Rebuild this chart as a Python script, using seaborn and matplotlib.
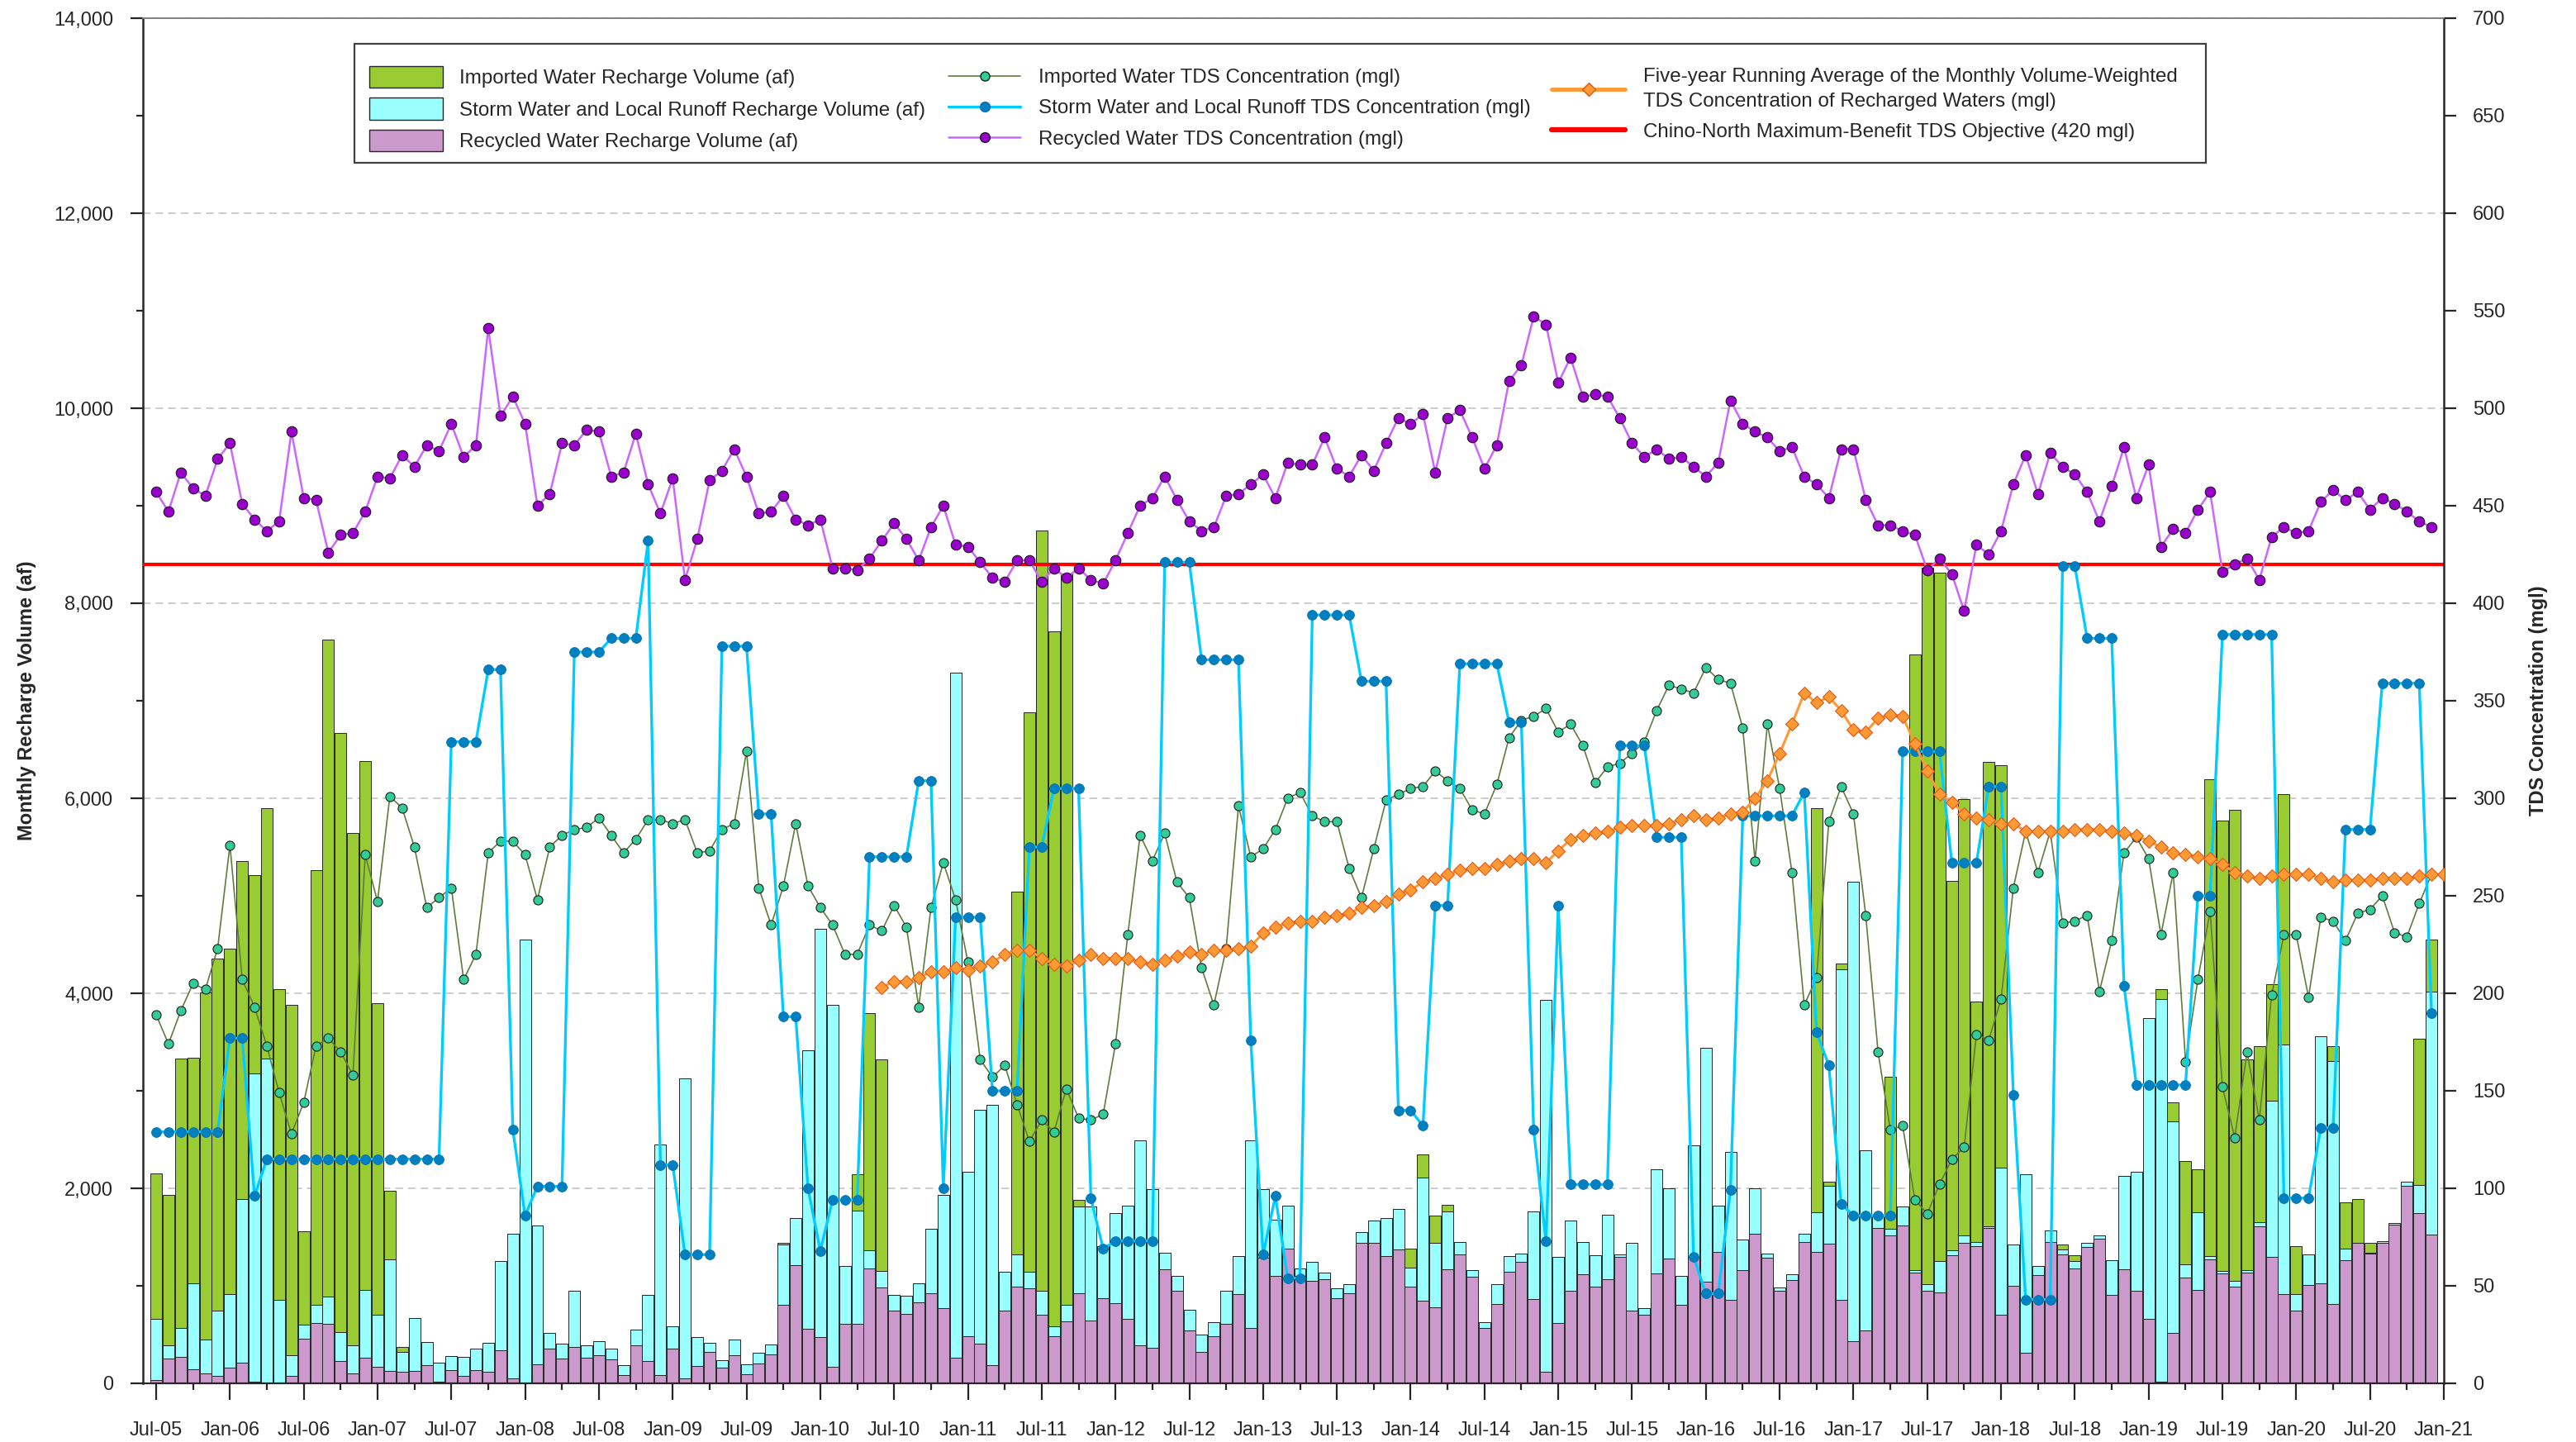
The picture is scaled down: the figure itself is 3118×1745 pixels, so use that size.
import numpy as np
import pandas as pd
import seaborn as sns
import matplotlib.pyplot as plt
from matplotlib.lines import Line2D
from matplotlib.patches import Patch, Rectangle
from matplotlib.ticker import MultipleLocator, FuncFormatter

sns.set_style("ticks")
plt.rcParams['font.family'] = ['Liberation Sans', 'DejaVu Sans']

# monthly values Jul-05 .. Dec-20 (186 months)
recycled_af = [
    30, 257, 272, 144, 98, 76, 159, 212, 20, 10, 0, 76, 454, 620, 612, 227, 98, 265, 166, 129, 121, 129, 189, 20,
    136, 76, 136, 121, 340, 53, 10, 197, 355, 257, 370, 265, 287, 250, 83, 393, 227, 83, 355, 53, 181, 318, 159,
    287, 91, 204, 295, 809, 1210, 560, 476, 166, 612, 612, 1180, 983, 749, 711, 832, 922, 771, 265, 484, 408, 189, 749,
    990, 975, 703, 484, 635, 922, 643, 870, 824, 658, 386, 363, 1172, 953, 544, 318, 484, 612, 915, 567, 1285, 1104, 1384, 1104,
    1051, 1066, 870, 922, 1444, 1437, 1308, 1376, 990, 847, 779, 1172, 1323, 1089, 567, 817, 1142, 1248, 862, 121, 620, 953, 1119, 990,
    1066, 1293, 749, 703, 1127, 1278, 809, 1300, 1043, 1346, 854, 1164, 1535, 1285, 945, 1059, 1452, 1346, 1429, 854, 431, 544, 1595,
    1520, 1618, 1134, 953, 930, 1316, 1437, 1406, 1595, 703, 998, 310, 1111, 1452, 1323, 1180, 1399, 1482, 907, 1172, 945, 665, 20, 514,
    1081, 960, 1270, 1127, 990, 1134, 1610, 1293, 915, 749, 1006, 1028, 817, 1263, 1444, 1331, 1444, 1626, 2026, 1747, 1527,
]
storm_af = [
    635, 136, 295, 884, 348, 673, 756, 1678, 3156, 3324, 854, 211, 151, 181, 280, 302, 295, 695, 537, 1141, 197, 544, 234, 192,
    144, 196, 219, 295, 915, 1482, 4542, 1421, 159, 151, 583, 128, 144, 105, 106, 159, 680, 2367, 227, 3077, 295, 98, 75,
    159, 106, 106, 106, 612, 484, 2858, 4182, 3713, 590, 1157, 181, 166, 158, 189, 196, 666, 1157, 7024, 1686, 2397, 2669, 393,
    333, 167, 250, 98, 166, 893, 1172, 536, 923, 1164, 2102, 1626, 166, 151, 212, 181, 144, 333, 393, 1928, 704, 575, 438, 76,
    197, 68, 105, 99, 106, 234, 386, 408, 197, 1263, 665, 590, 129, 68, 61, 204, 166, 83, 900, 3811, 673, 718, 333, 326,
    665, 30, 695, 68, 1066, 726, 295, 1142, 2397, 476, 1520, 310, 461, 46, 38, 60, 83, 408, 597, 3388, 4710, 1845, 114,
    68, 197, 30, 68, 325, 45, 83, 46, 15, 1512, 423, 1830, 91, 113, 46, 75, 38, 38, 356, 953, 1225, 3078, 3919, 2170,
    136, 794, 38, 22, 61, 30, 46, 1603, 2556, 166, 317, 2533, 2487, 121, 0, 7, 15, 22, 38, 287, 2488,
]
imported_af = [
    1490, 1543, 2760, 2314, 3561, 3606, 3546, 3463, 2033, 2564, 3191, 3592, 953, 4461, 6737, 6140, 5248, 5421, 3199, 703, 52, 0, 0, 0,
    0, 0, 0, 0, 0, 0, 0, 0, 0, 0, 0, 0, 0, 0, 0, 0, 0, 0, 0, 0, 0, 0, 0,
    0, 0, 0, 0, 23, 0, 0, 0, 0, 0, 371, 2435, 2170, 0, 0, 0, 0, 0, 0, 0, 0, 0, 0,
    3720, 5738, 7795, 7130, 7501, 68, 0, 0, 0, 0, 0, 0, 0, 0, 0, 0, 0, 0, 0, 0, 0, 0, 0, 0,
    0, 0, 0, 0, 0, 0, 0, 0, 197, 241, 280, 68, 0, 0, 0, 0, 0, 0, 0, 0, 0, 0, 0, 0,
    0, 0, 0, 0, 0, 0, 0, 0, 0, 0, 0, 0, 0, 0, 0, 0, 0, 4144, 38, 60, 0, 0, 0,
    1557, 0, 6314, 7341, 7062, 3788, 4468, 2465, 4764, 4121, 0, 0, 0, 0, 52, 61, 0, 0, 0, 0, 0, 0, 106, 197,
    1066, 439, 4884, 4620, 4832, 2155, 1799, 1194, 2570, 491, 0, 0, 151, 468, 446, 106, 0, 0, 0, 1497, 537,
]

imported_tds = [
    189, 174, 191, 205, 202, 223, 276, 207, 193, 173, 149, 128, 144, 173, 177, 170, 158, 271, 247, 301, 295, 275, 244, 249,
    254, 207, 220, 272, 278, 278, 271, 248, 275, 281, 284, 285, 290, 281, 272, 279, 289, 289, 287, 289, 272, 273, 284,
    287, 324, 254, 235, 255, 287, 255, 244, 235, 220, 220, 235, 232, 245, 234, 193, 244, 267, 248, 216, 166, 157, 163,
    143, 124, 135, 129, 151, 136, 135, 138, 174, 230, 281, 268, 282, 257, 249, 213, 194, 223, 296, 270, 274, 284, 300, 303,
    291, 288, 288, 264, 249, 274, 299, 302, 305, 306, 314, 309, 305, 294, 292, 307, 331, 340, 342, 346, 334, 338, 327, 308,
    316, 318, 323, 329, 345, 358, 356, 354, 367, 361, 359, 336, 268, 338, 305, 262, 194, 208, 288, 306, 292, 240, 170,
    130, 132, 94, 87, 102, 115, 121, 179, 176, 197, 254, 283, 262, 283, 236, 237, 240, 201, 227, 272, 280, 269, 230, 262,
    165, 207, 242, 152, 126, 170, 135, 199, 230, 230, 198, 239, 237, 227, 241, 243, 250, 231, 229, 246, 261,
]
storm_tds = [
    129, 129, 129, 129, 129, 129, 177, 177, 96, 115, 115, 115, 115, 115, 115, 115, 115, 115, 115, 115, 115, 115, 115, 115,
    329, 329, 329, 366, 366, 130, 86, 101, 101, 101, 375, 375, 375, 382, 382, 382, 432, 112, 112, 66, 66, 66, 378,
    378, 378, 292, 292, 188, 188, 100, 68, 94, 94, 94, 270, 270, 270, 270, 309, 309, 100, 239, 239, 239, 150, 150,
    150, 275, 275, 305, 305, 305, 95, 69, 73, 73, 73, 73, 421, 421, 421, 371, 371, 371, 371, 176, 66, 96, 54, 54,
    394, 394, 394, 394, 360, 360, 360, 140, 140, 132, 245, 245, 369, 369, 369, 369, 339, 339, 130, 73, 245, 102, 102, 102,
    102, 327, 327, 327, 280, 280, 280, 65, 46, 46, 99, 291, 291, 291, 291, 291, 303, 180, 163, 92, 86, 86, 86,
    86, 324, 324, 324, 324, 267, 267, 267, 306, 306, 148, 43, 43, 43, 419, 419, 382, 382, 382, 204, 153, 153, 153, 153,
    153, 250, 250, 384, 384, 384, 384, 384, 95, 95, 95, 131, 131, 284, 284, 284, 359, 359, 359, 359, 190,
]
recycled_tds = [
    457, 447, 467, 459, 455, 474, 482, 451, 443, 437, 442, 488, 454, 453, 426, 435, 436, 447, 465, 464, 476, 470, 481, 478,
    492, 475, 481, 541, 496, 506, 492, 450, 456, 482, 481, 489, 488, 465, 467, 487, 461, 446, 464, 412, 433, 463, 468,
    479, 465, 446, 447, 455, 443, 440, 443, 418, 418, 417, 423, 432, 441, 433, 422, 439, 450, 430, 429, 421, 413, 411,
    422, 422, 411, 418, 413, 418, 412, 410, 422, 436, 450, 454, 465, 453, 442, 437, 439, 455, 456, 461, 466, 454, 472, 471,
    471, 485, 469, 465, 476, 468, 482, 495, 492, 497, 467, 495, 499, 485, 469, 481, 514, 522, 547, 543, 513, 526, 506, 507,
    506, 495, 482, 475, 479, 474, 475, 470, 465, 472, 504, 492, 488, 485, 478, 480, 465, 461, 454, 479, 479, 453, 440,
    440, 437, 435, 417, 423, 415, 396, 430, 425, 437, 461, 476, 456, 477, 470, 466, 457, 442, 460, 480, 454, 471, 429, 438,
    436, 448, 457, 416, 420, 423, 412, 434, 439, 436, 437, 452, 458, 453, 457, 448, 454, 451, 447, 442, 439,
]
# five-year running average, Jun-10 .. Jan-21
running_avg_tds = [
    203, 206, 206, 208, 211, 211, 213, 212, 214, 216, 220, 222,
    222, 218, 215, 214, 217, 220, 218, 218, 218, 216, 215, 217, 219, 221, 220, 222, 222, 223, 224, 231, 234, 236, 237,
    237, 239, 240, 241, 244, 245, 247, 251, 253, 257, 259, 261, 263, 264, 264, 266, 268, 269, 269, 267, 273, 279, 281, 282,
    283, 285, 286, 286, 286, 287, 289, 291, 289, 290, 292, 293, 300, 309, 323, 338, 354, 349, 352, 345, 335, 334, 341,
    343, 342, 328, 314, 302, 298, 292, 290, 289, 287, 287, 283, 283, 283, 283, 284, 284, 284, 283, 282, 281, 278, 275, 272,
    271, 270, 269, 266, 262, 260, 259, 260, 261, 261, 261, 259, 257, 258, 258, 258, 259, 259, 259, 260, 261, 261,
]
objective_tds = 420
tick_labels = [d.strftime("%b-%y") for d in pd.date_range("2005-07-01", "2021-01-01", freq="6MS")]

df = pd.DataFrame({
    "month": np.arange(len(recycled_af)),
    "recycled": recycled_af, "storm": storm_af, "imported": imported_af,
    "imported_tds": imported_tds, "storm_tds": storm_tds, "recycled_tds": recycled_tds,
})
avg = pd.DataFrame({"month": np.arange(59, 59 + len(running_avg_tds)), "tds": running_avg_tds})

W, H = 3118, 1745
fig = plt.figure(figsize=(W / 100, H / 100), dpi=100)
ax = fig.add_axes([173 / W, (H - 1674) / H, 2785 / W, 1652 / H])
ax2 = ax.twinx()

# stacked bars
bw = 0.94
ec = "#262626"
ax.bar(df["month"], df["recycled"], width=bw, color="#CC99CC", edgecolor=ec, linewidth=0.7)
ax.bar(df["month"], df["storm"], width=bw, bottom=df["recycled"], color="#99FFFF", edgecolor=ec, linewidth=0.7)
ax.bar(df["month"], df["imported"], width=bw, bottom=df["recycled"] + df["storm"],
       color="#99CC33", edgecolor=ec, linewidth=0.7)

# TDS lines
ax2.axhline(objective_tds, color="#FF0000", linewidth=3.0, zorder=1)
sns.lineplot(data=df, x="month", y="imported_tds", ax=ax2, color="#5E7D3C", linewidth=1.2,
             marker="o", markersize=8, markerfacecolor="#33CC99", markeredgecolor="#1a1a1a",
             markeredgewidth=0.8, legend=False, zorder=3)
sns.lineplot(data=df, x="month", y="storm_tds", ax=ax2, color="#00CCFF", linewidth=2.4,
             marker="o", markersize=8.5, markerfacecolor="#0080C0", markeredgecolor="#0070B0",
             markeredgewidth=0.6, legend=False, zorder=4)
sns.lineplot(data=df, x="month", y="recycled_tds", ax=ax2, color="#CC66FF", linewidth=1.8,
             marker="o", markersize=9, markerfacecolor="#9900CC", markeredgecolor="#1a1a1a",
             markeredgewidth=0.8, legend=False, zorder=5)
sns.lineplot(data=avg, x="month", y="tds", ax=ax2, color="#FF9933", linewidth=2.2,
             marker="D", markersize=8.5, markerfacecolor="#FF9933", markeredgecolor="#E0561A",
             markeredgewidth=0.8, legend=False, zorder=6)

# axes formatting
ax.set_xlim(-1.075, 186)
ax.set_ylim(0, 14000)
ax2.set_ylim(0, 700)
ax.set_xticks(np.arange(0, 187, 6))
ax.set_xticklabels(tick_labels)
ax.xaxis.set_minor_locator(MultipleLocator(3))
ax.yaxis.set_major_locator(MultipleLocator(2000))
ax.yaxis.set_minor_locator(MultipleLocator(1000))
ax.yaxis.set_major_formatter(FuncFormatter(lambda v, p: f"{v:,.0f}"))
ax2.yaxis.set_major_locator(MultipleLocator(50))

ax.set_axisbelow(True)
ax.yaxis.grid(True, which="major", linestyle=(0, (6, 4)), color="#BFBFBF", linewidth=1.1)

ts = 17
ax.tick_params(axis="x", which="major", length=14.4, width=1.6, pad=19, labelsize=ts, direction="out")
ax.tick_params(axis="x", which="minor", length=5.8, width=1.6, direction="out")
ax.tick_params(axis="y", which="major", length=10.8, width=1.6, pad=15, labelsize=ts, direction="out")
ax.tick_params(axis="y", which="minor", length=5.8, width=1.6, direction="out")
ax2.tick_params(axis="y", which="major", length=10.8, width=1.6, pad=14.4, labelsize=ts, direction="out")

for a in (ax, ax2):
    a.spines["top"].set_color("#808080")
    a.spines["top"].set_linewidth(1.2)
ax.spines["left"].set_linewidth(1.8)
ax.spines["bottom"].set_linewidth(1.6)
ax.spines["right"].set_visible(False)
ax2.spines["right"].set_linewidth(1.8)
ax2.spines["left"].set_visible(False)
ax2.spines["bottom"].set_visible(False)

ax.set_xlabel("")
ax2.set_xlabel("")
ax.set_ylabel("Monthly Recharge Volume (af)", fontsize=17, fontweight="bold")
ax2.set_ylabel("TDS Concentration (mgl)", fontsize=17, fontweight="bold")
ax.yaxis.set_label_coords((44 - 173) / 2785, 0.5)
ax2.yaxis.set_label_coords((3061 - 173) / 2785, 0.5)

# legend
fs = 17.4
fig.add_artist(Rectangle((429 / W, 1 - 197 / H), 2241 / W, 144 / H, transform=fig.transFigure,
                         facecolor="white", edgecolor="#404040", linewidth=1.6, zorder=4))
h1 = [Patch(facecolor="#99CC33", edgecolor=ec), Patch(facecolor="#99FFFF", edgecolor=ec),
      Patch(facecolor="#CC99CC", edgecolor=ec)]
l1 = ["Imported Water Recharge Volume (af)", "Storm Water and Local Runoff Recharge Volume (af)",
      "Recycled Water Recharge Volume (af)"]
h2 = [Line2D([], [], color="#5E7D3C", lw=1.2, marker="o", ms=8, mfc="#33CC99", mec="#1a1a1a"),
      Line2D([], [], color="#00CCFF", lw=2.4, marker="o", ms=8.5, mfc="#0080C0", mec="#0070B0"),
      Line2D([], [], color="#CC66FF", lw=1.8, marker="o", ms=8.5, mfc="#9900CC", mec="#1a1a1a")]
l2 = ["Imported Water TDS Concentration (mgl)", "Storm Water and Local Runoff TDS Concentration (mgl)",
      "Recycled Water TDS Concentration (mgl)"]
h3 = [Line2D([], [], color="#FF9933", lw=3.5, marker="D", ms=8.5, mfc="#FF9933", mec="#E0561A"),
      Line2D([], [], color="#FF0000", lw=4.5)]
l3 = ["Five-year Running Average of the Monthly Volume-Weighted\nTDS Concentration of Recharged Waters (mgl)",
      "Chino-North Maximum-Benefit TDS Objective (420 mgl)"]

common = dict(frameon=False, fontsize=fs, loc="upper left", borderpad=0, borderaxespad=0)
fig.legend(h1, l1, bbox_to_anchor=(447 / W, 1 - 80 / H), handlelength=3.7, handleheight=1.3,
           handletextpad=0.8, labelspacing=0.5, **common)
fig.legend(h2, l2, bbox_to_anchor=(1148 / W, 1 - 83 / H), handlelength=3.6,
           handletextpad=0.92, labelspacing=0.64, **common)
leg3 = fig.legend(h3, l3, bbox_to_anchor=(1878 / W, 1 - 82 / H), handlelength=3.7,
                  handletextpad=0.88, labelspacing=0.62, **common)
leg3.get_texts()[0].set_linespacing(1.45)

fig.savefig("out.png", dpi=100)
plt.close(fig)
